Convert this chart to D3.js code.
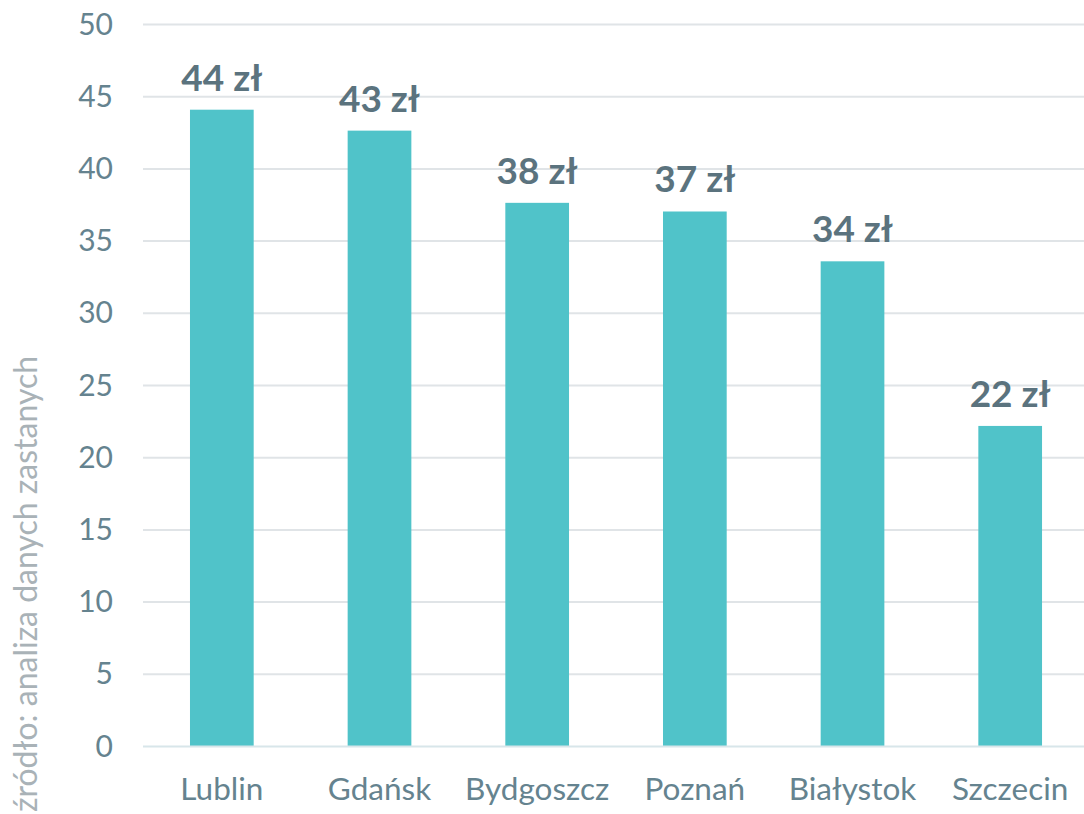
<!DOCTYPE html>
<html>
<head>
<meta charset="utf-8">
<script src="https://cdn.jsdelivr.net/npm/d3@7"></script>
<style>
  body { margin: 0; background: #fff; }
  text { font-family: Lato, "Open Sans", sans-serif; }
</style>
</head>
<body>
<div id="chart"></div>
<script>
const cities = ['Lublin', 'Gdańsk', 'Bydgoszcz', 'Poznań', 'Białystok', 'Szczecin'];
const prices = [44.1, 42.65, 37.65, 37.05, 33.6, 22.2];
const priceLabels = ['44 zł', '43 zł', '38 zł', '37 zł', '34 zł', '22 zł'];
const yTicks = [0, 5, 10, 15, 20, 25, 30, 35, 40, 45, 50];
const sourceNote = 'źródło: analiza danych zastanych';

const width = 1084, height = 814;
const margin = { top: 24.5, right: 0, bottom: 67.5, left: 143 };

const svg = d3.select('#chart').append('svg')
  .attr('width', width)
  .attr('height', height);

const x = d3.scaleBand()
  .domain(cities)
  .range([margin.left, margin.left + 6 * 157.67])
  .paddingInner(0.596)
  .paddingOuter(0.298);

const y = d3.scaleLinear()
  .domain([0, 50])
  .range([height - margin.bottom, margin.top]);

// grid lines
svg.append('g')
  .selectAll('line')
  .data(yTicks.filter(d => d > 0))
  .enter().append('line')
  .attr('x1', margin.left)
  .attr('x2', width)
  .attr('y1', d => y(d))
  .attr('y2', d => y(d))
  .attr('stroke', '#e0e4e7')
  .attr('stroke-width', 2);

// y axis labels
const yaxis = d3.axisLeft(y)
  .tickValues(yTicks)
  .tickSize(0)
  .tickPadding(0);

svg.append('g')
  .attr('transform', 'translate(113,0)')
  .call(yaxis)
  .call(g => g.select('.domain').remove())
  .selectAll('text')
  .attr('fill', '#65838f')
  .style('font-size', '30px');

// bars
svg.append('g')
  .selectAll('rect')
  .data(cities)
  .enter().append('rect')
  .attr('x', d => x(d))
  .attr('width', x.bandwidth())
  .attr('y', (d, i) => y(prices[i]))
  .attr('height', (d, i) => y(0) - y(prices[i]))
  .attr('fill', '#50c3c9');

// baseline
svg.append('line')
  .attr('x1', margin.left)
  .attr('x2', width)
  .attr('y1', y(0))
  .attr('y2', y(0))
  .attr('stroke', '#d8e6ea')
  .attr('stroke-width', 2);

// x axis labels
const xaxis = d3.axisBottom(x).tickSize(0).tickPadding(0);
svg.append('g')
  .attr('transform', `translate(0, ${y(0)})`)
  .call(xaxis)
  .call(g => g.select('.domain').remove())
  .selectAll('text')
  .attr('dy', null)
  .attr('y', 53)
  .attr('fill', '#65838f')
  .style('font-size', '31.5px');

// value labels
svg.append('g')
  .selectAll('text')
  .data(cities)
  .enter().append('text')
  .attr('x', d => x(d) + x.bandwidth() / 2)
  .attr('y', (d, i) => y(prices[i]) - 19)
  .attr('text-anchor', 'middle')
  .attr('fill', '#5b737e')
  .style('font-size', '37px')
  .style('font-weight', 'bold')
  .text((d, i) => priceLabels[i]);

// source note
svg.append('text')
  .attr('transform', 'translate(37, 812) rotate(-90)')
  .attr('fill', '#a9b2b7')
  .style('font-size', '32px')
  .text(sourceNote);
</script>
</body>
</html>
